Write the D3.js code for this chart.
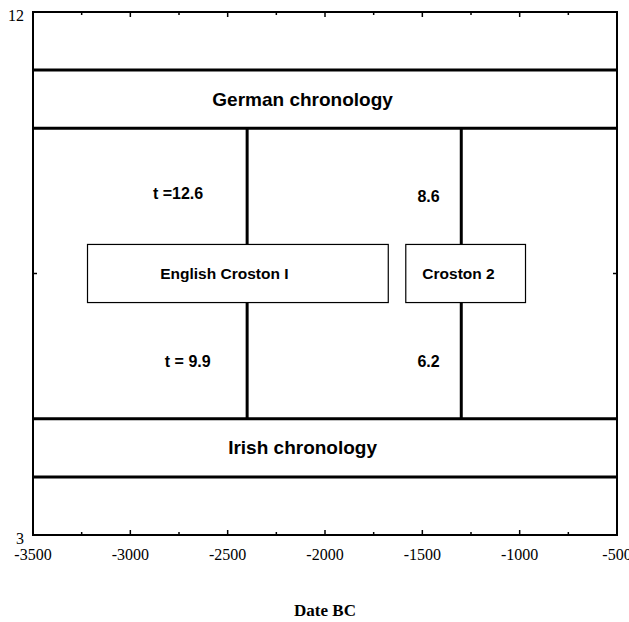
<!DOCTYPE html>
<html>
<head>
<meta charset="utf-8">
<script src="https://cdn.jsdelivr.net/npm/d3@7"></script>
<style>
  body { margin: 0; background: #fff; }
  svg { display: block; }
</style>
</head>
<body>
<svg id="chart"></svg>
<script>
// chronology bands (y from..to)
const bandNames = ["German chronology", "Irish chronology"];
const bandLow = [10, 4];
const bandHigh = [11, 5];
const bandLabelX = -2115;

// floating chronologies
const boxNames = ["English Croston I", "Croston 2"];
const boxStart = [-3220, -1585];
const boxEnd = [-1675, -970];
const boxLabelX = [-2517, -1314];
const boxLow = 7, boxHigh = 8;

// correlation links and their t values
const linkX = [-2400, -2400, -1300, -1300];
const linkFrom = [8, 5, 8, 5];
const linkTo = [10, 7, 10, 7];
const linkText = ["t =12.6", "t = 9.9", "8.6", "6.2"];
const linkTextX = [-2755, -2705, -1468, -1468];
const linkTextY = [8.88, 5.98, 8.83, 5.98];

const xTickVals = d3.range(-3500, -499, 250);
const xLabelVals = [-3500, -3000, -2500, -2000, -1500, -1000, -500];
const yLabelVals = [3, 12];

const width = 629, height = 622;
const margin = { top: 12, right: 12, bottom: 87, left: 33 };

const svg = d3.select("#chart")
    .attr("width", width)
    .attr("height", height);

const x = d3.scaleLinear().domain([-3500, -500]).range([margin.left, width - margin.right]);
const y = d3.scaleLinear().domain([3, 12]).range([height - margin.bottom, margin.top]);

const sans = "'Liberation Sans', Arial, sans-serif";
const serif = "'Liberation Serif', 'Times New Roman', serif";

// bands
svg.append("g")
    .attr("stroke", "#000")
    .attr("stroke-width", 3)
  .selectAll("line")
  .data(bandLow.concat(bandHigh))
  .join("line")
    .attr("x1", x(-3500)).attr("x2", x(-500))
    .attr("y1", d => y(d)).attr("y2", d => y(d));

svg.append("g")
    .attr("font-family", sans)
    .attr("font-weight", "bold")
    .attr("font-size", 19)
    .attr("text-anchor", "middle")
  .selectAll("text")
  .data(bandNames)
  .join("text")
    .attr("x", x(bandLabelX))
    .attr("y", (d, i) => y((bandLow[i] + bandHigh[i]) / 2))
    .attr("dy", "0.35em")
    .text(d => d);

// links
svg.append("g")
    .attr("stroke", "#000")
    .attr("stroke-width", 3)
  .selectAll("line")
  .data(linkX)
  .join("line")
    .attr("x1", d => x(d)).attr("x2", d => x(d))
    .attr("y1", (d, i) => y(linkFrom[i]))
    .attr("y2", (d, i) => y(linkTo[i]));

svg.append("g")
    .attr("font-family", sans)
    .attr("font-weight", "bold")
    .attr("font-size", 16)
    .attr("text-anchor", "middle")
  .selectAll("text")
  .data(linkText)
  .join("text")
    .attr("x", (d, i) => x(linkTextX[i]))
    .attr("y", (d, i) => y(linkTextY[i]))
    .attr("dy", "0.35em")
    .text(d => d);

// boxes
const box = svg.append("g")
  .selectAll("g")
  .data(boxNames)
  .join("g");

box.append("rect")
    .attr("x", (d, i) => x(boxStart[i]))
    .attr("y", y(boxHigh))
    .attr("width", (d, i) => x(boxEnd[i]) - x(boxStart[i]))
    .attr("height", y(boxLow) - y(boxHigh))
    .attr("fill", "#fff")
    .attr("stroke", "#000")
    .attr("stroke-width", 1.2);

box.append("text")
    .attr("x", (d, i) => x(boxLabelX[i]))
    .attr("y", y((boxLow + boxHigh) / 2))
    .attr("dy", "0.35em")
    .attr("text-anchor", "middle")
    .attr("font-family", sans)
    .attr("font-weight", "bold")
    .attr("font-size", 15.5)
    .text(d => d);

// axes frame with inward ticks
const tickLen = d => (d % 500 === 0 ? 5 : 3);
const axes = svg.append("g").attr("stroke", "#000");

axes.append("rect")
    .attr("x", x(-3500)).attr("y", y(12))
    .attr("width", x(-500) - x(-3500))
    .attr("height", y(3) - y(12))
    .attr("fill", "none")
    .attr("stroke-width", 2);

axes.selectAll("line.bt")
  .data(xTickVals)
  .join("line")
    .attr("class", "bt")
    .attr("x1", d => x(d)).attr("x2", d => x(d))
    .attr("y1", y(3)).attr("y2", d => y(3) - tickLen(d))
    .attr("stroke-width", 1.5);

axes.selectAll("line.tt")
  .data(xTickVals)
  .join("line")
    .attr("class", "tt")
    .attr("x1", d => x(d)).attr("x2", d => x(d))
    .attr("y1", y(12)).attr("y2", d => y(12) + tickLen(d))
    .attr("stroke-width", 1.5);

axes.append("line")
    .attr("x1", x(-3500)).attr("x2", x(-3500) + 4)
    .attr("y1", y(7.5)).attr("y2", y(7.5))
    .attr("stroke-width", 1.5);
axes.append("line")
    .attr("x1", x(-500)).attr("x2", x(-500) - 4)
    .attr("y1", y(7.5)).attr("y2", y(7.5))
    .attr("stroke-width", 1.5);

// tick labels
svg.append("g")
    .attr("font-family", serif)
    .attr("font-size", 16)
    .attr("text-anchor", "middle")
  .selectAll("text")
  .data(xLabelVals)
  .join("text")
    .attr("x", d => x(d))
    .attr("y", y(3) + 25)
    .text(d => d);

svg.append("g")
    .attr("font-family", serif)
    .attr("font-size", 16)
    .attr("text-anchor", "end")
  .selectAll("text")
  .data(yLabelVals)
  .join("text")
    .attr("x", x(-3500) - 9)
    .attr("y", d => y(d) + 9)
    .text(d => d);

svg.append("text")
    .attr("x", (x(-3500) + x(-500)) / 2)
    .attr("y", 616)
    .attr("text-anchor", "middle")
    .attr("font-family", serif)
    .attr("font-weight", "bold")
    .attr("font-size", 17)
    .text("Date BC");
</script>
</body>
</html>
